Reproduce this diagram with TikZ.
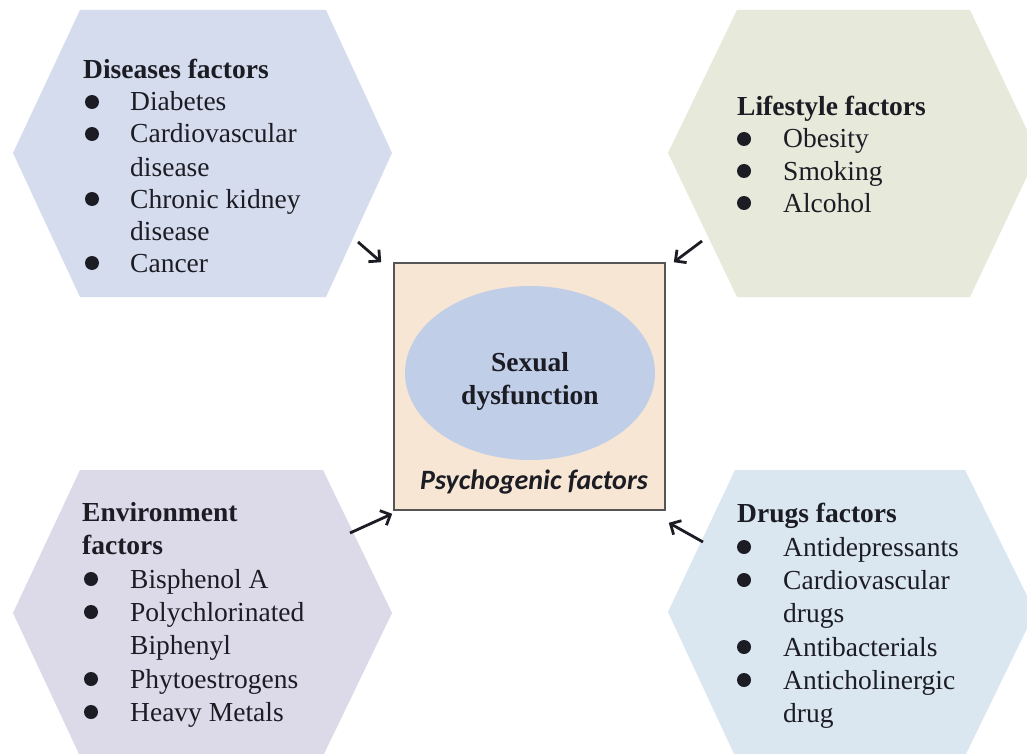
\documentclass[tikz,border=0pt]{standalone}
\usepackage{fontspec}
\setmainfont{Liberation Serif}
\newfontfamily\calibfont{Carlito}
\usetikzlibrary{arrows.meta,shapes.geometric}
\definecolor{hexA}{RGB}{213,220,238}
\definecolor{hexB}{RGB}{231,233,218}
\definecolor{hexC}{RGB}{220,217,232}
\definecolor{hexD}{RGB}{218,230,240}
\definecolor{boxfill}{RGB}{248,230,212}
\definecolor{boxline}{RGB}{85,85,85}
\definecolor{ellfill}{RGB}{193,206,232}
\definecolor{txt}{RGB}{28,28,36}
\begin{document}
\begin{tikzpicture}[x=1pt,y=-1pt,
  itemline/.style={anchor=base west, inner sep=0pt, text=txt, font=\fontsize{27.5}{33}\selectfont},
  headline/.style={itemline, font=\fontsize{27.5}{33}\selectfont\bfseries},
  dot/.style={circle, fill=txt, inner sep=0pt, minimum size=14pt},
  arr/.style={draw=txt, line width=2.8pt, -{Straight Barb[length=8pt,width=16pt]}}]
\useasboundingbox (0,0) rectangle (1027,754);
\fill[white] (0,0) rectangle (1027,754);
% hexagons
\fill[hexA] (80,10) -- (326,10) -- (392,153) -- (326,297) -- (80,297) -- (13,153) -- cycle;
\fill[hexB] (737,10) -- (970,10) -- (1038,153) -- (970,297) -- (737,297) -- (668,153) -- cycle;
\fill[hexC] (80,470) -- (323,470) -- (392,613) -- (323,756) -- (80,756) -- (13,613) -- cycle;
\fill[hexD] (735,470) -- (965,470) -- (1035,612) -- (965,756) -- (735,756) -- (668,612) -- cycle;
% centre
\node[draw=boxline, line width=1.6pt, fill=boxfill, minimum width=271pt, minimum height=247pt, inner sep=0pt] (box) at (529.5,386.5) {};
\node[ellipse, fill=ellfill, minimum width=250pt, minimum height=174pt, inner sep=0pt] (core) at (530,373) {};
\node[headline, anchor=base] (sx1) at (530,371) {Sexual};
\node[headline, anchor=base] (sx2) at (530,404) {dysfunction};
\node[anchor=base, inner sep=0pt, text=txt, font=\calibfont\bfseries\itshape\fontsize{28}{30}\selectfont] (psy) at (534,489) {Psychogenic factors};
% Diseases
\node[headline] (d0) at (83,79) {Diseases factors};
\node[itemline] (d1) at (130,111) {Diabetes};
\node[itemline] (d2) at (130,143) {Cardiovascular};
\node[itemline] (d3) at (130,176) {disease};
\node[itemline] (d4) at (130,208) {Chronic kidney};
\node[itemline] (d5) at (130,240) {disease};
\node[itemline] (d6) at (130,272) {Cancer};
\node[dot] (db1) at (92,102) {};
\node[dot] (db2) at (92,134) {};
\node[dot] (db4) at (92,199) {};
\node[dot] (db6) at (92,263) {};
% Lifestyle
\node[headline] (l0) at (737,116) {Lifestyle factors};
\node[itemline] (l1) at (783,148) {Obesity};
\node[itemline] (l2) at (783,180) {Smoking};
\node[itemline] (l3) at (783,212) {Alcohol};
\node[dot] (lb1) at (744,139) {};
\node[dot] (lb2) at (744,171) {};
\node[dot] (lb3) at (744,203) {};
% Environment
\node[headline] (e0) at (82,521) {Environment};
\node[headline] (e1) at (82,554) {factors};
\node[itemline] (e2) at (130,588) {Bisphenol A};
\node[itemline] (e3) at (130,621) {Polychlorinated};
\node[itemline] (e4) at (130,654) {Biphenyl};
\node[itemline] (e5) at (130,688) {Phytoestrogens};
\node[itemline] (e6) at (130,721) {Heavy Metals};
\node[dot] (eb2) at (91,579) {};
\node[dot] (eb3) at (91,612) {};
\node[dot] (eb5) at (91,679) {};
\node[dot] (eb6) at (91,712) {};
% Drugs
\node[headline] (g0) at (737,522) {Drugs factors};
\node[itemline] (g1) at (783,556) {Antidepressants};
\node[itemline] (g2) at (783,589) {Cardiovascular};
\node[itemline] (g3) at (783,622) {drugs};
\node[itemline] (g4) at (783,656) {Antibacterials};
\node[itemline] (g5) at (783,689) {Anticholinergic};
\node[itemline] (g6) at (783,722) {drug};
\node[dot] (gb1) at (744,547) {};
\node[dot] (gb2) at (744,580) {};
\node[dot] (gb4) at (744,647) {};
\node[dot] (gb5) at (744,680) {};
% arrows
\coordinate (s1) at (358,242);
\coordinate (s2) at (702,241);
\coordinate (s3) at (350,533);
\coordinate (s4) at (703,542);
\coordinate (t1) at ([xshift=-12pt]box.north west);
\coordinate (t2) at ([xshift=8pt]box.north east);
\coordinate (t3) at ([xshift=-1pt,yshift=-3pt]box.south west);
\coordinate (t4) at ([xshift=3pt,yshift=-12pt]box.south east);
\draw[arr] (s1) -- (t1);
\draw[arr] (s2) -- (t2);
\draw[arr] (s3) -- (t3);
\draw[arr] (s4) -- (t4);
\end{tikzpicture}
\end{document}
